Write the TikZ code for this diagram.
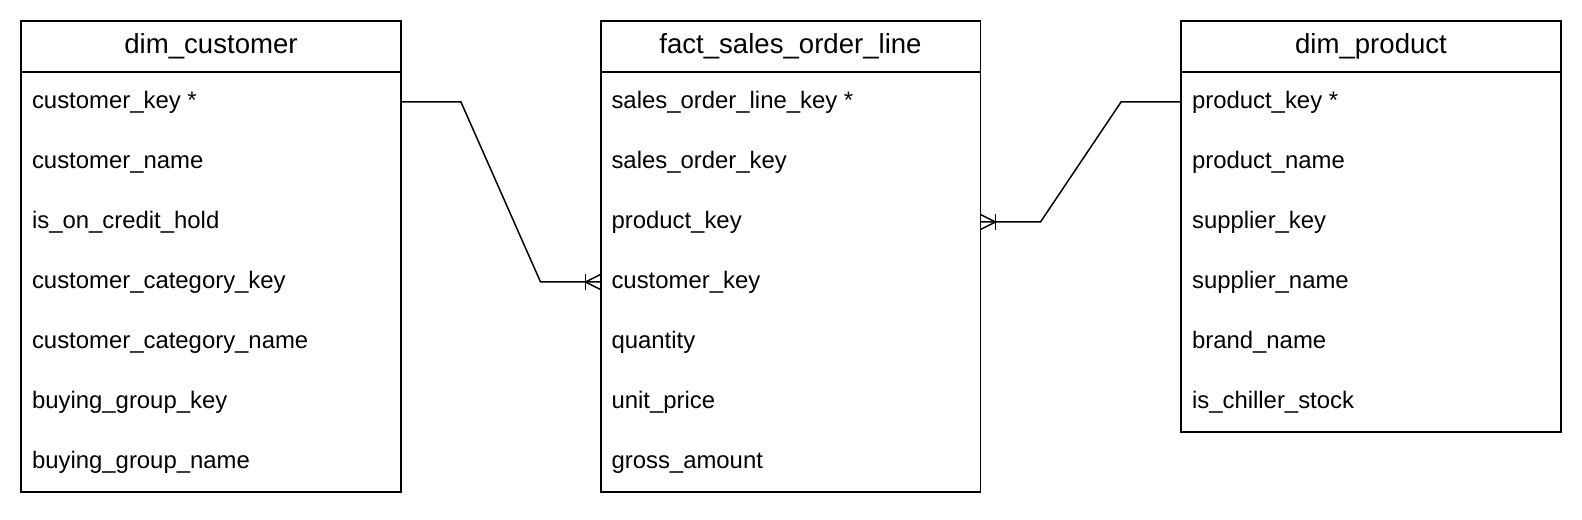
\documentclass[tikz,border=0pt]{standalone}
\usepackage{fontspec}
\setmainfont{Liberation Sans}
\usetikzlibrary{positioning,calc}

\begin{document}
\begin{tikzpicture}[x=0.02cm, y=-0.02cm, node distance=0cm, outer sep=0pt,
    tabhead/.style={draw, rectangle, line width=1.1pt, minimum width=7.6cm, minimum height=1.02cm, font=\fontsize{15.7}{18}\selectfont},
    tabbody/.style={draw, rectangle, line width=1.1pt, minimum width=7.6cm},
    field/.style={anchor=west, inner sep=0pt, text height=1.6ex, text depth=0.3ex, font=\fontsize{13.6}{16}\selectfont},
    relation/.style={line width=0.85pt}]
    \useasboundingbox (0,0) rectangle (1582,520);

    % tables
    \node [tabhead] (custhead) at (211,46.5) {dim\_customer};
    \node [tabbody, minimum height=8.4cm, below=of custhead] (custbody) {};
    \node [tabhead] (facthead) at (790.5,46.5) {fact\_sales\_order\_line};
    \node [tabbody, minimum height=8.4cm, below=of facthead] (factbody) {};
    \node [tabhead] (prodhead) at (1371,46.5) {dim\_product};
    \node [tabbody, minimum height=7.2cm, below=of prodhead] (prodbody) {};

    % fields
    \foreach \f [count=\i] in {customer\_key *, customer\_name, is\_on\_credit\_hold, customer\_category\_key, customer\_category\_name, buying\_group\_key, buying\_group\_name}
        \node [field] (cust-\i) at ($(custbody.north west)+(11,60*\i-30)$) {\f};
    \foreach \f [count=\i] in {sales\_order\_line\_key *, sales\_order\_key, product\_key, customer\_key, quantity, unit\_price, gross\_amount}
        \node [field] (fact-\i) at ($(factbody.north west)+(11,60*\i-30)$) {\f};
    \foreach \f [count=\i] in {product\_key *, product\_name, supplier\_key, supplier\_name, brand\_name, is\_chiller\_stock}
        \node [field] (prod-\i) at ($(prodbody.north west)+(11,60*\i-30)$) {\f};

    % relations
    \coordinate (custend) at (factbody.west |- fact-4);
    \coordinate (prodend) at (factbody.east |- fact-3);
    \draw [relation] (custbody.east |- cust-1) -- ++(60,0) -- ($(custend)+(-60,0)$) -- (custend);
    \draw [relation] (prodbody.west |- prod-1) -- ++(-60,0) -- ($(prodend)+(60,0)$) -- (prodend);

    % one-to-many ends
    \draw [relation] ($(custend)+(-15,-8)$) -- ++(0,16);
    \draw [relation] ($(custend)+(0,-7.5)$) -- ++(-15,7.5) -- ++(15,7.5);
    \draw [relation] ($(prodend)+(15,-8)$) -- ++(0,16);
    \draw [relation] ($(prodend)+(0,-7.5)$) -- ++(15,7.5) -- ++(-15,7.5);
\end{tikzpicture}
\end{document}
